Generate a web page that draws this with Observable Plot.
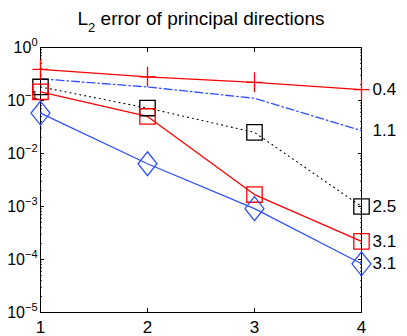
<!DOCTYPE html>
<html><head><meta charset="utf-8">
<script src="https://cdn.jsdelivr.net/npm/d3@7"></script>
<script src="https://cdn.jsdelivr.net/npm/@observablehq/plot@0.6"></script>
<style>
body{margin:0;background:#fff;}
#wrap{position:relative;width:407px;height:336px;overflow:hidden;font-family:"Liberation Sans",Arial,Helvetica,sans-serif;color:#000;}
#title{position:absolute;left:0;top:9px;width:402px;text-align:center;font-size:19px;line-height:19px;white-space:nowrap;}
#title sub{font-size:13px;vertical-align:-7px;line-height:0;}
#chart{position:absolute;left:0;top:0;}
</style></head><body>
<div id="wrap"><div id="chart"></div><div id="title">L<sub>2</sub> error of principal directions</div></div>
<script>
// ---- data ----
const levels = [1, 2, 3, 4];
const redPlus = [0.385, 0.28, 0.22, 0.16];
const blueDashDot = [0.257, 0.18, 0.11, 0.027];
const blackSquares = [0.18, 0.072, 0.025, 0.001];
const redSquares = [0.146, 0.05, 0.00168, 0.00022];
const blueDiamonds = [0.058, 0.0064, 0.00091, 0.000083];
const rates = ["0.4", "1.1", "2.5", "3.1", "3.1"];
const xTicks = [1, 2, 3, 4];
const yTicks = [1e-5, 1e-4, 1e-3, 1e-2, 1e-1, 1];

// ---- tables ----
const seriesList = [
  {key: "redPlus", values: redPlus},
  {key: "blueDashDot", values: blueDashDot},
  {key: "blackSquares", values: blackSquares},
  {key: "redSquares", values: redSquares},
  {key: "blueDiamonds", values: blueDiamonds}
];
const rows = k => levels.map((x, i) => ({x, y: seriesList.find(s => s.key === k).values[i]}));
const endLabels = seriesList.map((s, i) => ({x: levels[levels.length - 1], y: s.values[s.values.length - 1], text: rates[i]}));
const yMinor = yTicks.slice(0, -1).flatMap(t => d3.range(2, 10).map(m => m * t));

// ---- styles ----
const RED = "#ff0000", BLUE = "#2f50ff", BLACK = "#000";
const LW = 1.3;
const rOf = size => Math.sqrt(size / Math.PI);
const plusSym = {draw(c, size) { const r = rOf(size); const w = r * 0.8; c.moveTo(-w, 0); c.lineTo(w, 0); c.moveTo(0, -r); c.lineTo(0, r); }};
const squareSym = {draw(c, size) { const r = rOf(size); c.moveTo(-r, -r); c.lineTo(r, -r); c.lineTo(r, r); c.lineTo(-r, r); c.closePath(); }};
const diamondSym = {draw(c, size) { const r = rOf(size); const w = r * 0.79; c.moveTo(0, -r); c.lineTo(w, 0); c.lineTo(0, r); c.lineTo(-w, 0); c.closePath(); }};

const chart = Plot.plot({
  width: 407, height: 336,
  marginTop: 47, marginBottom: 24, marginLeft: 40, marginRight: 46,
  style: {fontFamily: "Liberation Sans, Arial, Helvetica, sans-serif", fontSize: "16px", background: "transparent", color: "#000", overflow: "visible"},
  x: {domain: [1, 4], type: "linear"},
  y: {type: "log", domain: [1e-5, 1]},
  marks: [
    // minor ticks
    Plot.axisY({anchor: "left", ticks: yMinor, tickSize: -2, tickFormat: () => "", strokeWidth: 0.8, label: null}),
    Plot.axisY({anchor: "right", ticks: yMinor, tickSize: -2, tickFormat: () => "", strokeWidth: 0.8, label: null}),
    // major ticks
    Plot.axisY({anchor: "left", ticks: yTicks, tickSize: -4, tickPadding: 7, tickFormat: d => String(Math.round(Math.log10(d))), fontSize: 16, label: null}),
    Plot.axisY({anchor: "right", ticks: yTicks, tickSize: -4, tickFormat: () => "", label: null}),
    Plot.axisX({anchor: "bottom", ticks: xTicks, tickSize: -4, tickPadding: 12, tickFormat: d => String(d), fontSize: 17, label: null}),
    Plot.axisX({anchor: "top", ticks: xTicks, tickSize: -4, tickFormat: () => "", label: null}),
    Plot.frame({stroke: "black", strokeWidth: 1}),
    // lines
    Plot.line(rows("blueDashDot"), {x: "x", y: "y", stroke: BLUE, strokeWidth: LW, strokeDasharray: "8,3,1.5,3"}),
    Plot.line(rows("blackSquares"), {x: "x", y: "y", stroke: BLACK, strokeWidth: 1.1, strokeDasharray: "1,4"}),
    Plot.line(rows("redPlus"), {x: "x", y: "y", stroke: RED, strokeWidth: LW}),
    Plot.line(rows("redSquares"), {x: "x", y: "y", stroke: RED, strokeWidth: LW}),
    Plot.line(rows("blueDiamonds"), {x: "x", y: "y", stroke: BLUE, strokeWidth: LW}),
    // markers
    Plot.dot(rows("blackSquares"), {x: "x", y: "y", symbol: squareSym, r: 7.7, stroke: BLACK, fill: "none", strokeWidth: LW}),
    Plot.dot(rows("redSquares"), {x: "x", y: "y", symbol: squareSym, r: 7.7, stroke: RED, fill: "none", strokeWidth: LW}),
    Plot.dot(rows("redPlus"), {x: "x", y: "y", symbol: plusSym, r: 10, stroke: RED, fill: "none", strokeWidth: LW}),
    Plot.dot(rows("blueDiamonds"), {x: "x", y: "y", symbol: diamondSym, r: 12, stroke: BLUE, fill: "none", strokeWidth: LW}),
    // rate labels
    Plot.text(endLabels, {x: "x", y: "y", text: "text", dx: 11, textAnchor: "start", fontSize: 17, fill: "#000"})
  ]
});
document.getElementById("chart").appendChild(chart);

// superscript exponents on y labels
const NS = "http://www.w3.org/2000/svg";
chart.querySelectorAll('g[aria-label="y-axis tick label"] text').forEach(t => {
  const e = t.textContent.trim();
  if (!e) return;
  t.textContent = "";
  const base = document.createElementNS(NS, "tspan");
  base.textContent = "10";
  const sup = document.createElementNS(NS, "tspan");
  sup.setAttribute("dy", "-7");
  sup.setAttribute("font-size", "11");
  sup.textContent = e.replace("-", "\u2212");
  t.append(base, sup);
});
</script>
</body></html>
